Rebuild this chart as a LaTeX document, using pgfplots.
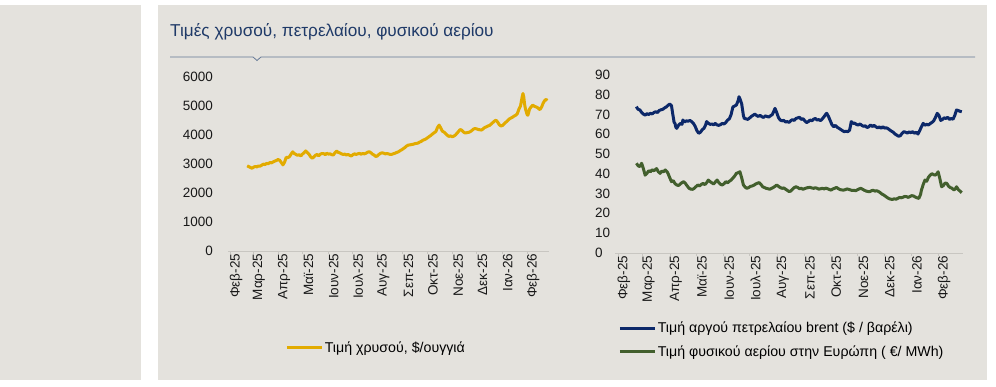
\documentclass[border=0pt]{standalone}
\usepackage{fontspec}
\setmainfont{Liberation Sans}
\usepackage{pgfplots}
\pgfplotsset{compat=1.18}
\definecolor{panel}{RGB}{228,226,221}
\definecolor{titleblue}{RGB}{31,58,104}
\definecolor{rulecol}{RGB}{100,120,150}
\definecolor{gold}{RGB}{226,171,0}
\definecolor{navy}{RGB}{12,40,105}
\definecolor{olive}{RGB}{66,95,45}
\definecolor{axcol}{RGB}{200,198,193}
\begin{document}
\begin{tikzpicture}
\fill[white] (0pt,0pt) rectangle (996pt,-387pt);
\fill[panel] (0pt,-5pt) rectangle (141pt,-380pt);
\fill[panel] (158pt,-5pt) rectangle (987pt,-380pt);
\node[anchor=base west, inner sep=0pt, text=titleblue, font=\fontsize{17.2}{20}\selectfont] at (170pt,-37pt) {Τιμές χρυσού, πετρελαίου, φυσικού αερίου};
\draw[rulecol, line width=0.8pt] (170pt,-57pt) -- (253pt,-57pt) -- (257pt,-60.5pt) -- (261pt,-57pt) -- (975pt,-57pt);
\pgfplotsset{
  every axis/.append style={
    scale only axis,
    font=\fontsize{13.5}{15}\selectfont,
    /pgf/number format/assume math mode=true,
    /pgf/number format/set thousands separator={},
    axis x line=bottom, axis y line=left,
    axis line style={-},
    x axis line style={draw=axcol},
    y axis line style={draw=none},
    ytick style={draw=none},
    xtick style={draw=axcol},
    major tick length=3pt,
    tick align=outside,
    xtick={0,28,59,89,120,150,181,212,242,273,303,334,365},
    xticklabels={Φεβ-25,Μαρ-25,Απρ-25,Μαϊ-25,Ιουν-25,Ιουλ-25,Αυγ-25,Σεπ-25,Οκτ-25,Νοε-25,Δεκ-25,Ιαν-26,Φεβ-26},
    xticklabel style={rotate=90, anchor=east, inner sep=0pt, xshift=0pt, yshift=-6pt, text=black!90},
    legend style={draw=none, fill=none, inner sep=0pt, nodes={inner sep=1.5pt}, font=\fontsize{14.2}{16}\selectfont},
    legend cell align=left,
    legend image code/.code={\draw[#1, line width=3pt] (0pt,0pt) -- (35pt,0pt);},
    every axis plot/.append style={line width=3pt, line join=round},
  }
}
\begin{axis}[
  at={(228pt,-250.7pt)}, anchor=south west,
  width=321pt, height=174pt,
  xmin=-2.5, xmax=392, ymin=0, ymax=6000,
  ytick={0,1000,2000,3000,4000,5000,6000},
  yticklabel style={anchor=east, inner sep=0pt, xshift=-12pt, text=black!90},
  legend style={at={(axis description cs:0.178,-0.559)}, anchor=west},
]
\addplot[gold] coordinates {
(21,2925)(23,2900)(25,2870)(27,2845)(29,2880)(31,2905)(33,2890)(35,2920)(37,2915)(39,2950)
(41,2985)(43,2970)(45,3010)(47,3000)(49,3040)(51,3030)(53,3060)(55,3090)(57,3110)(59,3145)
(61,3120)(63,3040)(65,2960)(67,3050)(69,3220)(71,3210)(73,3240)(75,3330)(77,3410)(79,3350)
(81,3320)(83,3290)(85,3310)(87,3270)(89,3330)(91,3380)(93,3440)(95,3380)(97,3330)(99,3240)
(101,3190)(103,3230)(105,3290)(107,3320)(109,3270)(111,3330)(113,3350)(115,3350)(117,3310)(119,3360)
(121,3330)(123,3340)(125,3310)(127,3300)(129,3380)(131,3435)(133,3390)(135,3370)(137,3340)(139,3320)
(141,3330)(143,3300)(145,3320)(147,3290)(149,3265)(151,3310)(153,3340)(155,3320)(157,3340)(159,3355)
(161,3330)(163,3350)(165,3340)(167,3360)(169,3395)(171,3415)(173,3380)(175,3330)(177,3300)(179,3250)
(181,3265)(183,3320)(185,3360)(187,3375)(189,3360)(191,3340)(193,3350)(195,3335)(197,3320)(199,3325)
(201,3345)(203,3365)(205,3390)(207,3410)(209,3450)(211,3480)(213,3520)(215,3560)(217,3610)(219,3640)
(221,3650)(223,3660)(225,3670)(227,3690)(229,3700)(231,3710)(233,3745)(235,3770)(237,3810)(239,3830)
(241,3860)(243,3900)(245,3940)(247,3980)(249,4030)(251,4070)(253,4110)(255,4250)(257,4330)(259,4230)
(261,4120)(263,4090)(265,4040)(267,3980)(269,3940)(271,3960)(273,3930)(275,3950)(277,3990)(279,4050)
(281,4120)(283,4180)(285,4150)(287,4090)(289,4060)(291,4070)(293,4080)(295,4100)(297,4140)(299,4190)
(301,4215)(303,4200)(305,4180)(307,4170)(309,4160)(311,4200)(313,4250)(315,4270)(317,4300)(319,4320)
(321,4370)(323,4420)(325,4470)(327,4500)(329,4430)(331,4340)(333,4300)(335,4320)(337,4380)(339,4430)
(341,4480)(343,4540)(345,4570)(347,4600)(349,4640)(351,4670)(353,4720)(355,4880)(357,4990)(358,5150)
(359,5300)(360,5420)(361,5300)(362,5050)(363,4900)(365,4700)(366,4670)(367,4760)(368,4880)(370,4960)
(372,5020)(374,4980)(376,4960)(378,4930)(380,4880)(381,4870)(383,4960)(385,5100)(387,5190)(388.5,5215)(390,5180)
};
\addlegendentry{Τιμή χρυσού, \$/ουγγιά}
\end{axis}
\begin{axis}[
  at={(615pt,-252.7pt)}, anchor=south west,
  width=348pt, height=177.7pt,
  xmin=-3.4, xmax=393.4, ymin=0, ymax=90,
  ytick={0,10,20,30,40,50,60,70,80,90},
  yticklabel style={anchor=west, inner sep=0pt, xshift=-17pt, text=black!90},
  legend style={at={(axis description cs:0.009,-0.491)}, anchor=west, row sep=8pt},
]
\addplot[navy] coordinates {
(21,74.0)(22,73.2)(23,72.6)(25,72.3)(27,71.0)(29,70.2)(31,69.7)(33,70.4)(35,70.0)(37,70.6)
(39,70.3)(41,71.0)(43,71.4)(45,71.0)(47,72.0)(49,72.4)(51,72.6)(53,73.3)(55,73.8)(57,74.6)
(59,75.3)(61,74.5)(62,71.5)(64,66.0)(65,65.5)(66,63.5)(67,63.0)(69,64.5)(71,65.5)(73,65.0)
(74,67.2)(76,66.2)(78,66.8)(80,66.6)(82,67.0)(84,66.4)(86,65.5)(88,64.0)(90,61.8)(92,60.5)
(94,61.0)(96,62.3)(98,63.0)(100,64.8)(101,66.4)(103,65.6)(105,65.0)(107,65.2)(109,64.8)(111,65.5)
(113,64.7)(115,64.5)(117,64.9)(119,65.5)(121,65.2)(123,66.0)(125,67.2)(127,67.8)(129,70.0)(131,73.8)
(133,74.3)(135,74.8)(137,77.0)(138,79.0)(139,78.0)(141,75.5)(143,69.5)(144,68.0)(146,67.8)(148,67.5)
(150,68.2)(152,69.0)(154,69.6)(156,70.2)(158,69.5)(160,69.0)(162,69.6)(164,68.9)(166,68.5)(168,69.3)
(170,69.0)(172,68.7)(174,69.4)(176,70.0)(178,72.0)(179,73.1)(181,71.0)(183,68.4)(185,67.2)(187,66.8)
(189,67.0)(191,66.2)(193,66.4)(195,66.0)(197,66.9)(199,67.4)(201,67.0)(203,68.0)(205,68.3)(207,68.6)
(209,67.5)(211,67.9)(213,66.8)(215,65.9)(217,66.4)(219,67.2)(221,66.8)(223,67.6)(225,68.0)(227,67.2)
(229,67.4)(231,66.9)(233,67.8)(235,68.9)(237,70.2)(238,70.6)(240,69.0)(242,66.9)(244,64.8)(246,63.8)
(248,64.5)(250,63.5)(252,63.0)(254,62.4)(256,61.8)(258,61.3)(260,61.5)(262,61.3)(264,62.0)(265,64.0)
(266,66.4)(268,65.5)(270,65.6)(272,64.9)(274,64.7)(276,65.2)(278,64.5)(280,64.0)(282,64.3)(284,63.4)
(286,63.8)(288,64.7)(290,63.9)(292,64.5)(294,63.8)(296,63.2)(298,63.7)(300,63.0)(302,63.8)(304,63.1)
(306,63.3)(308,62.8)(310,62.1)(312,61.5)(314,61.0)(316,60.1)(318,59.5)(320,59.0)(322,59.3)(324,60.5)
(326,61.3)(328,61.0)(330,60.6)(332,61.2)(334,60.8)(336,61.3)(338,60.5)(340,61.0)(342,60.1)(344,61.8)
(346,63.8)(348,65.5)(350,64.6)(352,65.0)(354,64.7)(356,65.4)(358,66.0)(360,66.8)(362,68.5)(364,70.6)
(366,69.5)(368,67.0)(370,67.5)(372,68.3)(374,68.0)(376,68.6)(378,67.5)(380,68.0)(382,67.6)(384,69.5)
(386,72.3)(388,72.0)(390,71.6)(392,71.4)
};
\addlegendentry{Τιμή αργού πετρελαίου brent (\$ / βαρέλι)}
\addplot[olive] coordinates {
(21,45.3)(23,44.0)(25,43.6)(27,45.3)(29,42.5)(31,39.3)(33,40.2)(35,41.5)(37,41.0)(39,42.0)
(41,41.5)(42,41.9)(44,42.6)(46,41.0)(48,40.2)(50,41.3)(52,41.0)(54,41.9)(56,41.0)(57,40.2)
(59,38.0)(61,36.0)(63,36.5)(65,35.0)(67,34.3)(69,34.0)(71,34.8)(73,35.5)(75,36.0)(77,35.0)
(79,33.8)(81,32.6)(83,32.2)(85,32.1)(87,32.6)(89,33.5)(91,34.3)(93,33.8)(95,34.6)(97,35.1)
(99,34.5)(101,35.4)(103,36.8)(105,36.0)(107,35.4)(109,34.8)(111,35.8)(113,36.8)(115,35.5)(117,34.6)
(119,34.3)(121,35.0)(123,36.0)(125,35.4)(127,36.2)(129,36.8)(131,37.8)(133,38.8)(135,40.2)(137,40.5)
(139,41.0)(141,38.0)(143,34.3)(145,33.2)(147,32.6)(149,33.0)(151,33.6)(153,33.8)(155,34.2)(157,34.8)
(159,35.2)(161,35.5)(163,34.6)(165,33.4)(167,33.0)(169,32.6)(171,32.4)(173,32.1)(175,32.6)(177,33.0)
(179,33.6)(181,34.3)(183,33.6)(185,33.0)(187,32.6)(189,32.8)(191,32.2)(193,31.6)(195,31.0)(197,31.2)
(199,32.2)(201,33.0)(203,33.4)(205,33.0)(207,32.4)(209,32.6)(211,32.1)(213,32.5)(215,32.8)(217,33.0)
(219,33.1)(221,32.8)(223,32.6)(225,32.9)(227,32.6)(229,32.2)(231,32.4)(233,32.6)(235,32.3)(237,32.7)
(239,32.4)(241,32.0)(243,31.7)(245,32.3)(247,32.6)(249,33.1)(251,32.5)(253,32.0)(255,31.8)(257,31.7)
(259,31.9)(261,32.3)(263,32.1)(265,31.8)(267,31.5)(269,31.6)(271,31.4)(273,31.9)(275,32.3)(277,32.6)
(279,32.1)(281,31.6)(283,31.2)(285,31.0)(287,30.9)(289,31.4)(291,31.6)(293,31.2)(295,31.4)(297,31.0)
(299,30.4)(301,29.7)(303,29.2)(305,28.6)(307,27.9)(309,27.4)(311,27.1)(313,27.0)(315,27.3)(317,27.1)
(319,27.5)(321,28.0)(323,27.8)(325,28.1)(327,28.5)(329,28.4)(331,28.0)(333,28.5)(335,28.9)(337,28.7)
(339,28.2)(341,27.8)(343,27.5)(345,29.5)(346,31.7)(348,34.5)(350,36.8)(352,36.2)(354,38.2)(356,39.3)
(358,40.0)(360,39.5)(362,39.3)(364,40.2)(365,41.0)(367,37.5)(369,33.4)(371,34.0)(373,35.3)(375,35.1)
(377,33.6)(379,33.0)(381,32.6)(383,31.8)(385,32.5)(386,33.4)(388,32.0)(390,31.2)(392,30.4)
};
\addlegendentry{Τιμή φυσικού αερίου στην Ευρώπη ( €/ MWh)}
\end{axis}
\end{tikzpicture}
\end{document}
